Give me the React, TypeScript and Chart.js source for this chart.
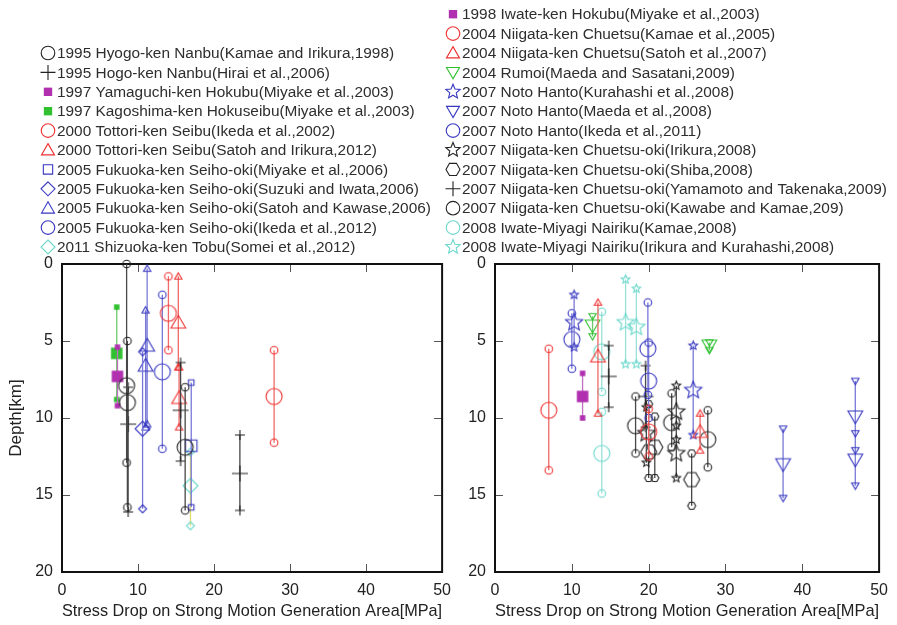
import React, { useEffect, useRef } from 'react';
import { Chart, registerables } from 'chart.js';
Chart.register(...registerables);

// ---- Data: each row = [stress drop (MPa), top depth, centre depth, bottom depth] (km)
const hyogoKamae = [[8.5, 0.0, 7.9, 12.9], [8.6, 5.0, 9.0, 15.8], [16.2, 8.0, 11.9, 16.0]];
const hyogoHirai = [[8.7, 8.0, 10.4, 16.1], [15.6, 6.4, 9.5, 12.8], [23.4, 11.1, 13.6, 16.0]];
const yamaguchiMiyake = [[7.3, 5.4, 7.3, 9.2]];
const kagoshimaMiyake = [[7.2, 2.8, 5.8, 8.8]];
const tottoriIkeda = [[14.0, 0.8, 3.2, 5.6], [27.9, 5.6, 8.6, 11.6]];
const tottoriSatoh = [[15.3, 0.8, 3.8, 6.7], [15.4, 6.7, 8.7, 10.6]];
const fukuokaMiyake = [[17.0, 7.7, 11.8, 15.8]];
const fukuokaSuzuki = [[10.6, 5.7, 10.7, 15.9]];
const fukuokaSatoh = [[11.2, 0.3, 5.3, 10.4], [11.0, 3.0, 6.6, 10.6]];
const fukuokaIkeda = [[13.2, 2.0, 7.0, 12.0]];
const shizuokaSomei = [[16.9, 12.2, 14.4, 17.0]];

const iwateMiyake = [[11.4, 7.1, 8.6, 10.0]];
const chuetsuKamae = [[7.0, 5.5, 9.5, 13.4], [20.0, 9.4, 10.9, 12.5]];
const chuetsuSatoh = [[13.4, 2.5, 6.0, 9.7], [26.7, 9.7, 10.9, 12.1]];
const rumoiMaeda = [[12.7, 3.4, 4.0, 4.7], [27.9, 5.1, 5.3, 5.6]];
const notoKurahashi = [[10.3, 2.0, 3.8, 5.4], [25.8, 5.3, 8.2, 11.1]];
const notoMaeda = [[37.5, 10.7, 13.0, 15.2], [46.9, 7.6, 9.9, 12.1], [46.9, 11.0, 12.7, 14.4]];
const notoIkeda = [[10.0, 3.2, 4.9, 6.8], [19.9, 2.5, 5.5, 8.5], [20.0, 5.1, 7.6, 10.0]];
const chuetsuokiIrikura = [[19.7, 9.3, 11.0, 12.9], [23.6, 7.9, 9.6, 11.4], [23.6, 10.5, 12.3, 13.9]];
const chuetsuokiShiba = [[20.0, 9.1, 12.2, 13.9], [20.8, 9.9, 11.9, 13.9], [25.6, 12.3, 14.0, 15.7]];
const chuetsuokiYamamoto = [[14.8, 5.3, 7.3, 9.3], [19.6, 6.6, 8.6, 10.6]];
const chuetsuokiKawabe = [[18.3, 8.6, 10.5, 12.3], [23.0, 8.4, 10.3, 11.9], [27.7, 9.5, 11.4, 13.2]];
const iwateMiyagiKamae = [[13.9, 3.1, 5.7, 8.3], [13.9, 9.6, 12.3, 14.9]];
const iwateMiyagiIrikura = [[17.0, 1.0, 3.8, 6.5], [18.4, 1.6, 4.1, 6.5]];

const xTickValues = [0, 10, 20, 30, 40, 50];
const yTickValues = [0, 5, 10, 15, 20];

// ---- styles
const FONT = "'Liberation Sans', Arial, Helvetica, sans-serif";
const BLACK = '#222222', BLACK_L = '#484848';
const RED = '#f03030', RED_L = '#f06868';
const BLUE = '#3636c0', BLUE_L = '#7878d8';
const GREEN = '#30c030', GREEN_L = '#6ccc6c';
const MAG = '#b030b0', MAG_L = '#c070c0';
const CYAN = '#6cd8cc', CYAN_L = '#98e2da';
const YEL_L = '#e2dc6a';

type Shape = 'circle' | 'plus' | 'square' | 'triangle' | 'invtri' | 'diamond' | 'star' | 'hexagon';
interface Series { label: string; rows: number[][]; color: string; line: string; shape: Shape; filled?: boolean; }

const leftSeries: Series[] = [
  { label: '1995 Hyogo-ken Nanbu(Kamae and Irikura,1998)', rows: hyogoKamae, color: BLACK, line: BLACK_L, shape: 'circle' },
  { label: '1995 Hogo-ken Nanbu(Hirai et al.,2006)', rows: hyogoHirai, color: BLACK, line: BLACK_L, shape: 'plus' },
  { label: '1997 Yamaguchi-ken Hokubu(Miyake et al.,2003)', rows: yamaguchiMiyake, color: MAG, line: MAG_L, shape: 'square', filled: true },
  { label: '1997 Kagoshima-ken Hokuseibu(Miyake et al.,2003)', rows: kagoshimaMiyake, color: GREEN, line: GREEN_L, shape: 'square', filled: true },
  { label: '2000 Tottori-ken Seibu(Ikeda et al.,2002)', rows: tottoriIkeda, color: RED, line: RED_L, shape: 'circle' },
  { label: '2000 Tottori-ken Seibu(Satoh and Irikura,2012)', rows: tottoriSatoh, color: RED, line: RED_L, shape: 'triangle' },
  { label: '2005 Fukuoka-ken Seiho-oki(Miyake et al.,2006)', rows: fukuokaMiyake, color: BLUE, line: BLUE_L, shape: 'square' },
  { label: '2005 Fukuoka-ken Seiho-oki(Suzuki and Iwata,2006)', rows: fukuokaSuzuki, color: BLUE, line: BLUE_L, shape: 'diamond' },
  { label: '2005 Fukuoka-ken Seiho-oki(Satoh and Kawase,2006)', rows: fukuokaSatoh, color: BLUE, line: BLUE_L, shape: 'triangle' },
  { label: '2005 Fukuoka-ken Seiho-oki(Ikeda et al.,2012)', rows: fukuokaIkeda, color: BLUE, line: BLUE_L, shape: 'circle' },
  { label: '2011 Shizuoka-ken Tobu(Somei et al.,2012)', rows: shizuokaSomei, color: CYAN, line: YEL_L, shape: 'diamond' },
];

const rightSeries: Series[] = [
  { label: '1998 Iwate-ken Hokubu(Miyake et al.,2003)', rows: iwateMiyake, color: MAG, line: MAG_L, shape: 'square', filled: true },
  { label: '2004 Niigata-ken Chuetsu(Kamae et al.,2005)', rows: chuetsuKamae, color: RED, line: RED_L, shape: 'circle' },
  { label: '2004 Niigata-ken Chuetsu(Satoh et al.,2007)', rows: chuetsuSatoh, color: RED, line: RED_L, shape: 'triangle' },
  { label: '2004 Rumoi(Maeda and Sasatani,2009)', rows: rumoiMaeda, color: GREEN, line: GREEN_L, shape: 'invtri' },
  { label: '2007 Noto Hanto(Kurahashi et al.,2008)', rows: notoKurahashi, color: BLUE, line: BLUE_L, shape: 'star' },
  { label: '2007 Noto Hanto(Maeda et al.,2008)', rows: notoMaeda, color: BLUE, line: BLUE_L, shape: 'invtri' },
  { label: '2007 Noto Hanto(Ikeda et al.,2011)', rows: notoIkeda, color: BLUE, line: BLUE_L, shape: 'circle' },
  { label: '2007 Niigata-ken Chuetsu-oki(Irikura,2008)', rows: chuetsuokiIrikura, color: BLACK, line: BLACK_L, shape: 'star' },
  { label: '2007 Niigata-ken Chuetsu-oki(Shiba,2008)', rows: chuetsuokiShiba, color: BLACK, line: BLACK_L, shape: 'hexagon' },
  { label: '2007 Niigata-ken Chuetsu-oki(Yamamoto and Takenaka,2009)', rows: chuetsuokiYamamoto, color: BLACK, line: BLACK_L, shape: 'plus' },
  { label: '2007 Niigata-ken Chuetsu-oki(Kawabe and Kamae,209)', rows: chuetsuokiKawabe, color: BLACK, line: BLACK_L, shape: 'circle' },
  { label: '2008 Iwate-Miyagi Nairiku(Kamae,2008)', rows: iwateMiyagiKamae, color: CYAN, line: CYAN_L, shape: 'circle' },
  { label: '2008 Iwate-Miyagi Nairiku(Irikura and Kurahashi,2008)', rows: iwateMiyagiIrikura, color: CYAN, line: CYAN_L, shape: 'star' },
];

const BIG: Record<Shape, number> = { circle: 8, plus: 8, square: 8, triangle: 8.5, invtri: 8.5, diamond: 7.5, star: 9, hexagon: 8 };
const SMALL: Record<Shape, number> = { circle: 3.8, plus: 5, square: 3.8, triangle: 4.2, invtri: 4.2, diamond: 4, star: 4.5, hexagon: 4 };
const LEG: Record<Shape, number> = { circle: 6.8, plus: 7.5, square: 6.5, triangle: 7.5, invtri: 7.5, diamond: 7, star: 7.5, hexagon: 7 };

function poly(ctx: CanvasRenderingContext2D, x: number, y: number, r: number, n: number, a0: number) {
  for (let i = 0; i < n; i++) {
    const a = a0 + (i * 2 * Math.PI) / n;
    const px = x + r * Math.cos(a), py = y + r * Math.sin(a);
    if (i === 0) ctx.moveTo(px, py); else ctx.lineTo(px, py);
  }
  ctx.closePath();
}

function drawShape(ctx: CanvasRenderingContext2D, shape: Shape, x: number, y: number, r: number, color: string, filled: boolean) {
  ctx.save();
  ctx.strokeStyle = color;
  ctx.fillStyle = color;
  ctx.lineWidth = 1.1;
  ctx.beginPath();
  switch (shape) {
    case 'circle': ctx.arc(x, y, r, 0, Math.PI * 2); break;
    case 'square': { const s = r * 0.72; ctx.rect(x - s, y - s, 2 * s, 2 * s); break; }
    case 'triangle': poly(ctx, x, y + r * 0.15, r, 3, -Math.PI / 2); break;
    case 'invtri': poly(ctx, x, y - r * 0.15, r, 3, Math.PI / 2); break;
    case 'diamond': poly(ctx, x, y, r, 4, -Math.PI / 2); break;
    case 'hexagon': poly(ctx, x, y, r, 6, 0); break;
    case 'star': {
      for (let i = 0; i < 10; i++) {
        const rr = i % 2 === 0 ? r : r * 0.45;
        const a = -Math.PI / 2 + (i * Math.PI) / 5;
        const px = x + rr * Math.cos(a), py = y + rr * Math.sin(a);
        if (i === 0) ctx.moveTo(px, py); else ctx.lineTo(px, py);
      }
      ctx.closePath();
      break;
    }
    case 'plus':
      ctx.moveTo(x - r, y); ctx.lineTo(x + r, y);
      ctx.moveTo(x, y - r); ctx.lineTo(x, y + r);
      break;
  }
  if (filled) ctx.fill(); else ctx.stroke();
  ctx.restore();
}

const imgCache = new Map<string, HTMLCanvasElement>();
function markerImage(shape: Shape, r: number, color: string, filled: boolean): HTMLCanvasElement {
  const key = `${shape}|${r}|${color}|${filled}`;
  let c = imgCache.get(key);
  if (!c) {
    c = document.createElement('canvas');
    const size = Math.ceil(2 * r + 4);
    c.width = size; c.height = size;
    const ctx = c.getContext('2d')!;
    drawShape(ctx, shape, size / 2, size / 2, r, color, filled);
    imgCache.set(key, c);
  }
  return c;
}

function buildDataset(s: Series) {
  const pts: { x: number; y: number | null }[] = [];
  const roles: string[] = [];
  s.rows.forEach(([x, top, mid, bot]) => {
    pts.push({ x, y: top }); roles.push('end');
    pts.push({ x, y: mid }); roles.push('mid');
    pts.push({ x, y: bot }); roles.push('end');
    pts.push({ x, y: null }); roles.push('gap');
  });
  return {
    label: s.label,
    data: pts,
    showLine: true,
    spanGaps: false,
    borderColor: s.line,
    borderWidth: 1.3,
    backgroundColor: 'transparent',
    clip: false,
    pointRadius: 4,
    pointHoverRadius: 4,
    pointStyle: (c: any) => {
      const role = roles[c.dataIndex];
      const r = role === 'mid' ? BIG[s.shape] : SMALL[s.shape];
      return markerImage(s.shape, r, s.color, !!s.filled);
    },
  };
}

interface PlotCfg {
  series: Series[];
  axisW: number;
  padRight: number;
  showYTitle: boolean;
  legX: number;
  legTX: number;
  legY0: number;
}

function makeChart(canvas: HTMLCanvasElement, cfg: PlotCfg) {
  const framePlugin = {
    id: 'frame',
    beforeDatasetsDraw(chart: any) {
      const { ctx, chartArea: a, scales } = chart;
      ctx.save();
      ctx.strokeStyle = '#555';
      ctx.lineWidth = 1;
      const tl = 8;
      xTickValues.slice(1, -1).forEach((v) => {
        const px = Math.round(scales.x.getPixelForValue(v)) + 0.5;
        ctx.beginPath();
        ctx.moveTo(px, a.bottom); ctx.lineTo(px, a.bottom - tl);
        ctx.moveTo(px, a.top); ctx.lineTo(px, a.top + tl);
        ctx.stroke();
      });
      yTickValues.slice(1, -1).forEach((v) => {
        const py = Math.round(scales.y.getPixelForValue(v)) + 0.5;
        ctx.beginPath();
        ctx.moveTo(a.left, py); ctx.lineTo(a.left + tl, py);
        ctx.moveTo(a.right, py); ctx.lineTo(a.right - tl, py);
        ctx.stroke();
      });
      ctx.strokeStyle = '#111';
      ctx.lineWidth = 2;
      ctx.strokeRect(a.left, a.top, a.right - a.left, a.bottom - a.top);
      ctx.restore();
    },
  };
  const legendPlugin = {
    id: 'seriesLegend',
    afterDraw(chart: any) {
      const { ctx } = chart;
      ctx.save();
      ctx.font = `15.4px ${FONT}`;
      ctx.fillStyle = '#2e2e2e';
      ctx.textBaseline = 'middle';
      ctx.textAlign = 'left';
      cfg.series.forEach((s, i) => {
        const y = cfg.legY0 + i * 19.4;
        drawShape(ctx, s.shape, cfg.legX, y, s.filled ? 5.8 : LEG[s.shape], s.color, !!s.filled);
        ctx.fillText(s.label, cfg.legTX, y + 1);
      });
      ctx.restore();
    },
  };
  const tickFont = { family: FONT, size: 16 };
  return new Chart(canvas, {
    type: 'scatter',
    data: { datasets: cfg.series.map(buildDataset) as any },
    options: {
      responsive: false,
      animation: false,
      events: [],
      layout: { padding: { left: 0, right: cfg.padRight, top: 264, bottom: 0 } },
      plugins: { legend: { display: false }, tooltip: { enabled: false } },
      scales: {
        x: {
          type: 'linear', min: 0, max: 50,
          afterBuildTicks: (s: any) => { s.ticks = xTickValues.map((v) => ({ value: v })); },
          ticks: { color: '#222', font: tickFont, padding: 9, maxRotation: 0 },
          grid: { display: false, drawTicks: false },
          border: { display: false },
          title: { display: true, text: 'Stress Drop on Strong Motion Generation Area[MPa]', color: '#222', font: { family: FONT, size: 17 }, padding: { top: 0, bottom: 3 } },
          afterFit: (s: any) => { s.height = 53; },
        },
        y: {
          type: 'linear', min: 0, max: 20, reverse: true,
          afterBuildTicks: (s: any) => { s.ticks = yTickValues.map((v) => ({ value: v })); },
          ticks: { color: '#222', font: tickFont, padding: 9 },
          grid: { display: false, drawTicks: false },
          border: { display: false },
          title: { display: cfg.showYTitle, text: 'Depth[km]', color: '#222', font: { family: FONT, size: 17 }, padding: { top: 6, bottom: 0 } },
          afterFit: (s: any) => { s.width = cfg.axisW; },
        },
      },
    } as any,
    plugins: [framePlugin, legendPlugin],
  });
}

export default function App() {
  const leftRef = useRef<HTMLCanvasElement>(null);
  const rightRef = useRef<HTMLCanvasElement>(null);
  useEffect(() => {
    const c1 = makeChart(leftRef.current!, { series: leftSeries, axisW: 62, padRight: 13, showYTitle: true, legX: 48, legTX: 57, legY0: 53 });
    const c2 = makeChart(rightRef.current!, { series: rightSeries, axisW: 65, padRight: 17, showYTitle: false, legX: 23, legTX: 32, legY0: 14.2 });
    return () => { c1.destroy(); c2.destroy(); };
  }, []);
  return (
    <div style={{ position: 'fixed', left: 0, top: 0, width: 897, height: 625, background: '#fff' }}>
      <canvas ref={leftRef} width={460} height={625} style={{ position: 'absolute', left: 0, top: 0 }} />
      <canvas ref={rightRef} width={467} height={625} style={{ position: 'absolute', left: 430, top: 0 }} />
    </div>
  );
}
